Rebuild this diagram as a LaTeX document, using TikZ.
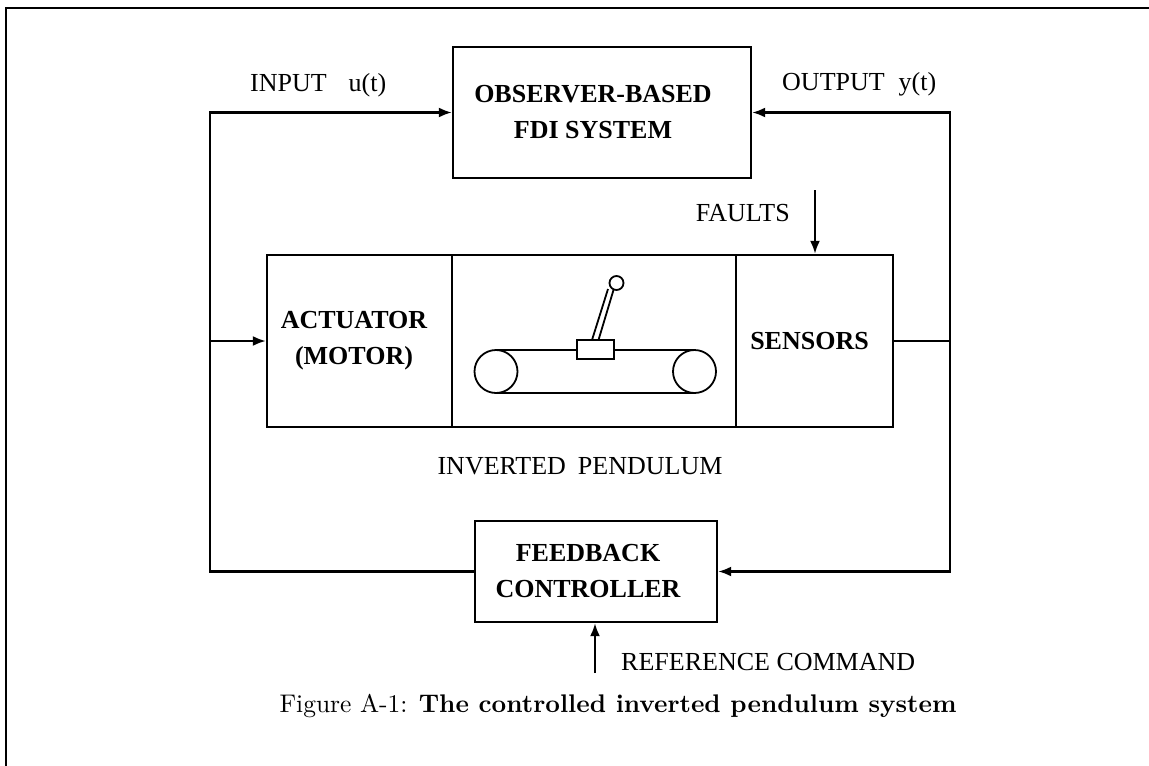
\documentclass[tikz,border=0pt]{standalone}
\usepackage{fontspec}
\newfontfamily\labelfont{Liberation Serif}
\usetikzlibrary{arrows.meta}
\begin{document}
\begin{tikzpicture}[x=1pt,y=-1pt,
  wire/.style={line width=2.3pt},
  feed/.style={wire,-{Latex[length=13pt,width=10pt]}},
  block/.style={draw,line width=2.3pt,inner sep=0pt,align=center,
    font=\labelfont\bfseries\fontsize{26}{36}\selectfont},
  lbl/.style={inner sep=0pt,font=\labelfont\fontsize{26}{30}\selectfont},
  sketch/.style={line width=1.8pt}]
\useasboundingbox (0,0) rectangle (1149,766);

% page frame (top and left edges)
\draw[wire] (6,766) -- (6,8) -- (1149,8);

% blocks
\node[block,minimum width=298pt,minimum height=131pt] (obs) at (602,112.5)
  {OBSERVER-BASED\hspace*{18pt}\\FDI SYSTEM\hspace*{18pt}};
\node[block,minimum width=185pt,minimum height=172pt] (act) at (359.5,341)
  {ACTUATOR\hspace*{11pt}\\(MOTOR)\hspace*{11pt}};
\node[block,minimum width=284pt,minimum height=172pt] (pend) at (594,341) {};
\node[block,minimum width=157pt,minimum height=172pt] (sens) at (814.5,341)
  {SENSORS\hspace*{10pt}};
\node[block,minimum width=242pt,minimum height=101pt] (ctrl) at (596,571.5)
  {FEEDBACK\hspace*{16pt}\\CONTROLLER\hspace*{16pt}};

% cart and pendulum sketch
\draw[sketch] (496,371.5) circle (21.5);
\draw[sketch] (694.5,371.5) circle (21.5);
\draw[sketch] (496,350) -- (694.5,350);
\draw[sketch] (496,393) -- (694.5,393);
\draw[sketch] (592,340) -- (608,289);
\draw[sketch] (598.5,340) -- (613.5,290);
\draw[sketch,fill=white] (577,340) rectangle (614,359);
\draw[sketch,fill=white] (616.5,283) circle (7);

% labels
\node[lbl,anchor=west] (inlbl) at (250,85) {INPUT\hspace{22pt}u(t)};
\node[lbl,anchor=west] (outlbl) at (782,84) {OUTPUT\hspace{14pt}y(t)};
\node[lbl,anchor=east] (faults) at (790,213) {FAULTS};
\node[lbl] (plantlbl) at (580,466) {INVERTED\hspace{12pt}PENDULUM};
\node[lbl,anchor=west] (ref) at (621,662) {REFERENCE COMMAND};
\node[inner sep=0pt] (cap) at (618,706)
  {\scalebox{2.55}{\fontsize{10}{12}\selectfont Figure A-1: {\bfseries The controlled inverted pendulum system}}};

% left loop: controller output to actuator and observer
\coordinate (jl) at (210,341);
\draw[wire] (ctrl.west) -| (jl);
\draw[feed] (jl) |- (obs.west);
\draw[feed] (jl) -- (act.west);

% right loop: measured output to observer and controller
\coordinate (jr) at (950,341);
\draw[wire] (sens.east) -- (jr);
\draw[feed] (jr) |- (obs.east);
\draw[feed] (jr) |- (ctrl.east);

% external inputs
\coordinate (fsrc) at (815,190);
\draw[feed] (fsrc) -- (fsrc |- sens.north);
\coordinate (rsrc) at (595,673);
\draw[feed] (rsrc) -- (rsrc |- ctrl.south);
\end{tikzpicture}
\end{document}
